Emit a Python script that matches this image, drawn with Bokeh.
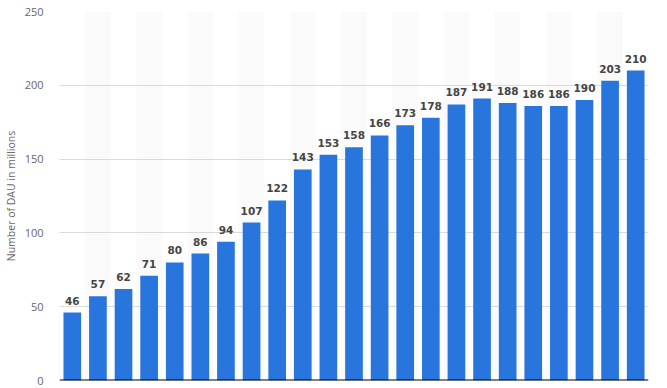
from bokeh.plotting import figure
from bokeh.models import ColumnDataSource, LabelSet, FixedTicker, Span, Range1d
from bokeh.core.properties import value
from bokeh.embed import file_html
from bokeh.resources import INLINE

# Data
values = [46, 57, 62, 71, 80, 86, 94, 107, 122, 143, 153, 158, 166, 173, 178,
          187, 191, 188, 186, 186, 190, 203, 210]
positions = list(range(len(values)))
value_labels = [str(v) for v in values]
y_ticks = [0, 50, 100, 150, 200, 250]
y_title = "Number of DAU in millions"

n = len(values)
p = figure(width=651, height=388, output_backend="svg", toolbar_location=None,
           x_range=Range1d(-0.5, n - 0.5), y_range=Range1d(0, 250),
           min_border_left=49, min_border_right=3, min_border_top=11,
           min_border_bottom=8)
p.outline_line_color = None
p.background_fill_color = "white"
p.border_fill_color = "white"

# alternating bands
band_idx = [i for i in positions if i % 2 == 1]
bands = p.quad(left=[i - 0.5 for i in band_idx], right=[i + 0.5 for i in band_idx],
               bottom=0, top=250, fill_color="#fafafa", line_color=None)
bands.level = "image"

src = ColumnDataSource(dict(x=positions, top=values, lab=value_labels))
p.vbar(x="x", top="top", width=0.69, bottom=0, source=src,
       fill_color="#2876dd", line_color=None)

labels = LabelSet(x="x", y="top", text="lab", source=src, y_offset=8,
                  text_align="center", text_baseline="alphabetic",
                  text_font=value("DejaVu Sans"), text_font_style="bold",
                  text_font_size="10.5px", text_color="#454545")
p.add_layout(labels)

p.add_layout(Span(location=0, dimension="width", line_color="#000000",
                  line_width=2))

p.xaxis.visible = False
p.xgrid.visible = False
p.ygrid.grid_line_color = "#b8b8b8"
p.ygrid.grid_line_dash = "1 1"
p.ygrid.grid_line_width = 1
p.ygrid.ticker = FixedTicker(ticks=y_ticks)

yax = p.yaxis[0]
yax.ticker = FixedTicker(ticks=y_ticks)
yax.axis_line_color = None
yax.major_tick_line_color = None
yax.minor_tick_line_color = None
yax.major_tick_out = 0
yax.major_tick_in = 0
yax.major_label_standoff = 16
yax.major_label_text_font = "Open Sans"
yax.major_label_text_font_size = "11px"
yax.major_label_text_color = "#666666"
yax.axis_label = y_title
yax.axis_label_text_font = "Open Sans"
yax.axis_label_text_font_size = "10.5px"
yax.axis_label_text_font_style = "normal"
yax.axis_label_text_color = "#666666"
yax.axis_label_standoff = 4

open("out.html", "w").write(file_html(p, INLINE))
